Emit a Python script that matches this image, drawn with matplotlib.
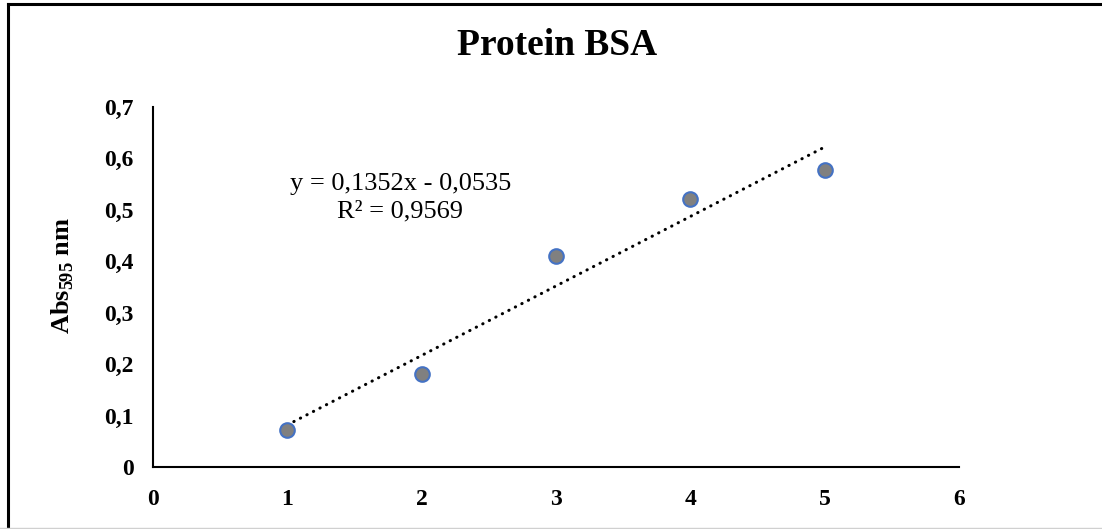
import matplotlib.pyplot as plt
import numpy as np
from matplotlib.lines import Line2D
from matplotlib.ticker import FuncFormatter

# data
conc = [1, 2, 3, 4, 5]
absorb = [0.072, 0.180, 0.410, 0.521, 0.577]
x_ticks = [0, 1, 2, 3, 4, 5, 6]
y_ticks = [0, 0.1, 0.2, 0.3, 0.4, 0.5, 0.6, 0.7]
title = 'Protein BSA'
eq_text = 'y = 0,1352x - 0,0535\nR² = 0,9569'


def comma(v, pos):
    s = f'{v:.1f}'.rstrip('0').rstrip('.') if v != int(v) else f'{int(v)}'
    return s.replace('.', ',')


def main():
    plt.rcParams['font.family'] = ['Liberation Serif', 'DejaVu Serif']
    plt.rcParams['mathtext.fontset'] = 'custom'
    plt.rcParams['mathtext.rm'] = 'Liberation Serif'
    plt.rcParams['mathtext.bf'] = 'Liberation Serif:bold'

    fig = plt.figure(figsize=(11.02, 5.29), dpi=100)
    ax = fig.add_axes([153 / 1102, 1 - 467 / 529, (959 - 153) / 1102, (467 - 107) / 529])

    # linear trendline like Excel
    k, b = np.polyfit(conc, absorb, 1)
    xs = np.array([conc[0], conc[-1]])
    ax.plot(xs, k * xs + b, color='black', linewidth=2.2,
            linestyle=(0, (0.1, 2.3)), dash_capstyle='round', zorder=2)

    ax.plot(conc, absorb, linestyle='none', marker='o', markersize=10.5,
            markerfacecolor='#808080', markeredgecolor='#4472C4',
            markeredgewidth=1.5, zorder=3)

    ax.set_xlim(0, 6)
    ax.set_ylim(0, 0.7)
    ax.set_xticks(x_ticks)
    ax.set_yticks(y_ticks)
    ax.xaxis.set_major_formatter(FuncFormatter(comma))
    ax.yaxis.set_major_formatter(FuncFormatter(comma))
    ax.tick_params(length=0, labelsize=17)
    ax.tick_params(axis='y', pad=14)
    ax.tick_params(axis='x', pad=16)
    for lab in ax.get_xticklabels() + ax.get_yticklabels():
        lab.set_fontweight('bold')

    for side in ['top', 'right']:
        ax.spines[side].set_visible(False)
    for side in ['left', 'bottom']:
        ax.spines[side].set_linewidth(1.5)

    ax.set_ylabel(r'Abs$_{\mathbf{595}}$ nm', fontsize=19, fontweight='bold')
    ax.yaxis.set_label_coords(-0.096, 0.533)

    fig.text(557 / 1102, 1 - 46 / 529, title, ha='center', va='center',
             fontsize=27, fontweight='bold')
    ax.text(1.84, 0.524, eq_text, ha='center', va='center', fontsize=19,
            linespacing=1.35)

    # outer frame of the pasted chart
    fig.add_artist(Line2D([7.5 / 1102, 7.5 / 1102], [0, 1 - 4 / 529],
                          color='black', linewidth=2.2))
    fig.add_artist(Line2D([7.5 / 1102, 1], [1 - 4 / 529, 1 - 4 / 529],
                          color='black', linewidth=2.2))
    fig.add_artist(Line2D([0, 1], [1.5 / 529, 1.5 / 529],
                          color='#d0d0d0', linewidth=1))

    fig.savefig('out.png', dpi=100)


if __name__ == '__main__':
    main()
